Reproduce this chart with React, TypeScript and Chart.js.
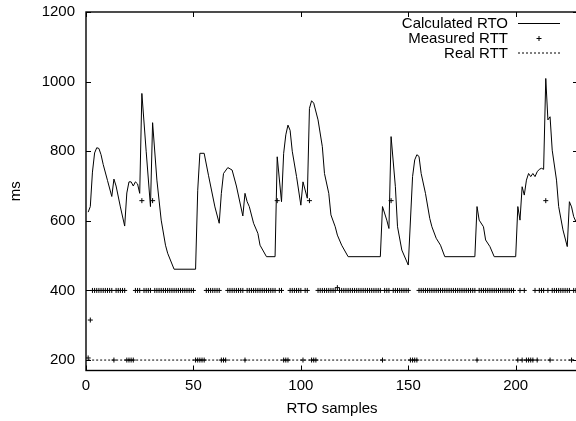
import React, { useEffect, useRef } from "react";
import { Chart, registerables } from "chart.js";

Chart.register(...registerables);

// ---- axes ----
const xTicks = [0, 50, 100, 150, 200];
const yTicks = [200, 400, 600, 800, 1000, 1200];
const xMin = 0;
const xMax = 229;
const yMin = 170;
const yMax = 1200;
const xTitle = "RTO samples";
const yTitle = "ms";
const seriesNames = ["Calculated RTO", "Measured RTT", "Real RTT"];

// ---- Calculated RTO (vertices) ----
const rtoSamples = [
  1, 2, 3, 4, 5, 6, 7, 8, 10, 12, 13, 14, 16, 18, 19, 20, 21, 22, 23, 24, 25, 26, 28, 30, 31, 33, 35, 37, 38, 41,
  51, 52, 53, 55, 57, 60, 62, 63, 64, 66, 68, 70, 73, 74, 75, 76, 78, 80, 81, 84, 88, 89, 91, 92, 93, 94, 95, 96,
  98, 100, 101, 103, 104, 105, 106, 108, 110, 111, 113, 114, 116, 117, 119, 122, 137, 138, 140, 141, 142, 144,
  145, 147, 150, 152, 153, 154, 155, 156, 158, 160, 161, 163, 165, 167, 181, 182, 183, 185, 186, 188, 190, 200,
  201, 202, 203, 204, 205, 206, 207, 208, 209, 210, 211, 212, 213, 214, 215, 216, 217, 219, 220, 222, 224, 225,
  226, 227, 228,
];
const rtoValues = [
  625, 641, 740, 795, 810, 808, 790, 762, 716, 670, 720, 700, 640, 585, 680, 712, 712, 700, 712, 706, 679, 966, 800, 641, 882, 717, 602, 530, 507, 461,
  461, 688, 794, 794, 731, 640, 593, 679, 736, 753, 746, 700, 614, 679, 655, 641, 593, 564, 530, 497, 497, 784, 655, 794, 847, 875, 860, 800,
  727, 645, 712, 665, 923, 945, 938, 890, 813, 736, 679, 617, 583, 559, 530, 497, 497, 641, 602, 578, 842, 698,
  583, 516, 473, 727, 775, 790, 785, 736, 679, 607, 583, 550, 530, 497, 497, 641, 602, 583, 545, 526, 497, 497,
  641, 602, 698, 674, 717, 736, 727, 736, 727, 741, 748, 751, 748, 1009, 890, 899, 803, 717, 641, 574, 526, 655,
  640, 612, 598,
];

// ---- Measured RTT (sample indices grouped by the level they sit at) ----
const rtt400Value = 400;
const rtt400Samples = [
  3, 4, 5, 6, 7, 8, 9, 10, 11, 12, 14, 15, 16, 17, 18, 23, 24, 25, 27, 28, 29, 30,
  32, 33, 34, 35, 36, 37, 38, 39, 40, 41, 42, 43, 44, 45, 46, 47, 48, 49, 50,
  56, 57, 58, 59, 60, 61, 62, 66, 67, 68, 69, 70, 71, 72, 73,
  75, 76, 77, 78, 79, 80, 81, 82, 83, 84, 85, 86, 87, 88, 90, 91,
  95, 96, 97, 98, 99, 100, 102, 103,
  108, 109, 110, 111, 112, 113, 114, 115, 116, 118, 119, 120, 121, 122, 123, 124, 125, 126, 127, 128, 129, 130,
  131, 132, 133, 134, 135, 136, 137, 139, 140, 141, 143, 144, 145, 146, 147, 148, 149, 150,
  155, 156, 157, 158, 159, 160, 161, 162, 163, 164, 165, 166, 167, 168, 169, 170, 171, 172, 173, 174, 175, 176,
  177, 178, 179, 180, 181, 183, 184, 185, 186, 187, 188, 189, 190, 191, 192, 193, 194, 195, 196, 197, 198, 199,
  202, 204, 209, 211, 212, 213, 215, 217, 218, 219, 220, 221, 222, 223, 224, 225, 227, 228,
];
const rtt200Value = 200;
const rtt200Samples = [
  13, 19, 20, 21, 22, 51, 52, 53, 54, 55, 63, 64, 65, 74, 92, 93, 94, 101, 105, 106, 107, 138,
  151, 152, 153, 154, 182, 201, 203, 205, 206, 207, 208, 210, 216, 226,
];
const rttSpikeValue = 658;
const rttSpikeSamples = [26, 31, 89, 104, 142, 214];
const rttOtherSamples = [1, 2, 117];
const rttOtherValues = [206, 315, 408];

// ---- Real RTT ----
const realRttSamples = [1, 229];
const realRttValues = [200, 200];

const FONT_FAMILY = '"Liberation Sans", Arial, Helvetica, sans-serif';
const FONT_SIZE = 15;
const FONT = `${FONT_SIZE}px ${FONT_FAMILY}`;

const framePlugin = {
  id: "gnuFrame",
  afterDraw(chart: any) {
    const { ctx, chartArea: a, scales } = chart;
    const xs = scales.x;
    const ys = scales.y;
    ctx.save();
    ctx.strokeStyle = "#000";
    ctx.fillStyle = "#000";
    ctx.lineWidth = 1.4;
    ctx.setLineDash([]);
    ctx.strokeRect(a.left, a.top, a.right - a.left, a.bottom - a.top);
    ctx.lineWidth = 1;
    const tl = 5;
    ctx.beginPath();
    for (const t of xTicks) {
      const p = Math.round(xs.getPixelForValue(t)) + 0.5;
      ctx.moveTo(p, a.bottom);
      ctx.lineTo(p, a.bottom - tl);
      ctx.moveTo(p, a.top);
      ctx.lineTo(p, a.top + tl);
    }
    for (const t of yTicks) {
      const p = Math.round(ys.getPixelForValue(t)) + 0.5;
      ctx.moveTo(a.left, p);
      ctx.lineTo(a.left + tl, p);
      ctx.moveTo(a.right, p);
      ctx.lineTo(a.right - tl, p);
    }
    ctx.stroke();

    // axis titles
    ctx.font = FONT;
    ctx.textAlign = "center";
    ctx.textBaseline = "alphabetic";
    ctx.fillText(xTitle, 332, 412.5);
    ctx.save();
    ctx.translate(20, (a.top + a.bottom) / 2);
    ctx.rotate(-Math.PI / 2);
    ctx.fillText(yTitle, 0, 0);
    ctx.restore();

    // key
    const textRight = 508;
    const rows = [23.5, 38.5, 53];
    ctx.textAlign = "right";
    ctx.textBaseline = "middle";
    seriesNames.forEach((n, i) => ctx.fillText(n, textRight, rows[i] + 0.5));
    ctx.beginPath();
    ctx.moveTo(518, rows[0]);
    ctx.lineTo(560, rows[0]);
    ctx.stroke();
    ctx.beginPath();
    ctx.moveTo(536.5, rows[1]);
    ctx.lineTo(541.5, rows[1]);
    ctx.moveTo(539, rows[1] - 2.5);
    ctx.lineTo(539, rows[1] + 2.5);
    ctx.stroke();
    ctx.beginPath();
    ctx.setLineDash([2, 2]);
    ctx.moveTo(518, rows[2]);
    ctx.lineTo(560, rows[2]);
    ctx.stroke();
    ctx.restore();
  },
};

export default function App() {
  const ref = useRef<HTMLCanvasElement>(null);
  useEffect(() => {
    const measured: { x: number; y: number }[] = [];
    rtt400Samples.forEach((s) => measured.push({ x: s, y: rtt400Value }));
    rtt200Samples.forEach((s) => measured.push({ x: s, y: rtt200Value }));
    rttSpikeSamples.forEach((s) => measured.push({ x: s, y: rttSpikeValue }));
    rttOtherSamples.forEach((s, i) => measured.push({ x: s, y: rttOtherValues[i] }));

    const chart = new Chart(ref.current as HTMLCanvasElement, {
      type: "line",
      data: {
        datasets: [
          {
            label: seriesNames[0],
            data: rtoSamples.map((s, i) => ({ x: s, y: rtoValues[i] })),
            borderColor: "#000",
            borderWidth: 1,
            pointRadius: 0,
            tension: 0,
            fill: false,
          },
          {
            label: seriesNames[1],
            data: measured,
            showLine: false,
            pointStyle: "cross",
            pointRadius: 2.5,
            pointBorderWidth: 1,
            borderColor: "#000",
            backgroundColor: "#000",
          },
          {
            label: seriesNames[2],
            data: realRttSamples.map((s, i) => ({ x: s, y: realRttValues[i] })),
            borderColor: "#000",
            borderWidth: 1,
            borderDash: [2, 2],
            pointRadius: 0,
            fill: false,
          },
        ],
      },
      options: {
        responsive: false,
        devicePixelRatio: 1,
        animation: false,
        events: [],
        layout: { autoPadding: false, padding: { left: 0, top: 12, right: 2, bottom: 0 } },
        plugins: { legend: { display: false }, tooltip: { enabled: false }, title: { display: false } },
        scales: {
          x: {
            type: "linear",
            min: xMin,
            max: xMax,
            grid: { display: false, drawTicks: false },
            border: { display: false },
            afterFit: (s: any) => {
              s.height = 50.5;
              s.paddingLeft = 0;
              s.paddingRight = 0;
            },
            afterBuildTicks: (s: any) => {
              s.ticks = xTicks.map((v) => ({ value: v }));
            },
            ticks: {
              color: "#000",
              font: { family: FONT_FAMILY, size: FONT_SIZE },
              padding: 6,
              maxRotation: 0,
              autoSkip: false,
              callback: (v: any) => String(v),
            },
          },
          y: {
            type: "linear",
            min: yMin,
            max: yMax,
            grid: { display: false, drawTicks: false },
            border: { display: false },
            afterFit: (s: any) => {
              s.width = 86;
              s.paddingTop = 0;
              s.paddingBottom = 0;
            },
            afterBuildTicks: (s: any) => {
              s.ticks = yTicks.map((v) => ({ value: v }));
            },
            ticks: {
              color: "#000",
              font: { family: FONT_FAMILY, size: FONT_SIZE },
              padding: 11,
              autoSkip: false,
              callback: (v: any) => String(v),
            },
          },
        },
      },
      plugins: [framePlugin],
    } as any);
    return () => chart.destroy();
  }, []);
  return (
    <div style={{ position: "fixed", left: 0, top: 0, width: 576, height: 421, overflow: "hidden", background: "#fff" }}>
      <canvas ref={ref} width={580} height={421} style={{ display: "block", width: 580, height: 421 }} />
    </div>
  );
}
